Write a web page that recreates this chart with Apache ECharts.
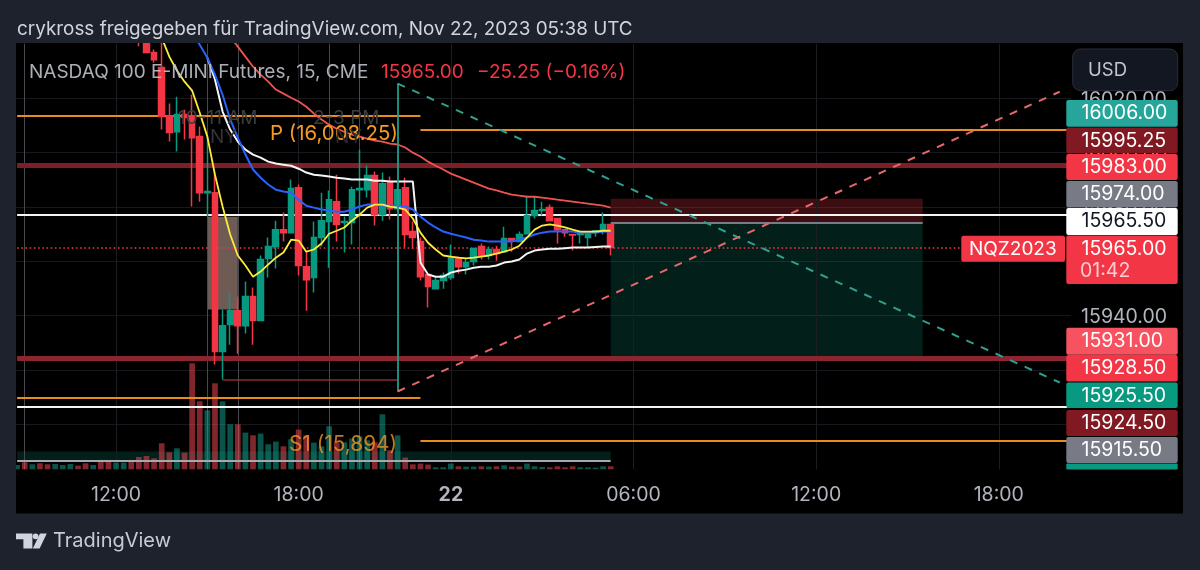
<!DOCTYPE html>
<html>
<head>
<meta charset="utf-8">
<style>html,body{margin:0;padding:0;background:#1e222d}#chart{width:1200px;height:570px}</style>
<script src="https://cdn.jsdelivr.net/npm/echarts@6/dist/echarts.min.js"></script>
</head>
<body>
<div id="chart"></div>
<script>
const categories = [
  '08:45',
  '09:00','09:15','09:30','09:45','10:00','10:15','10:30','10:45','11:00','11:15','11:30','11:45',
  '12:00','12:15','12:30','12:45','13:00','13:15','13:30','13:45','14:00','14:15','14:30','14:45',
  '15:00','15:15','15:30','15:45','16:00','16:15','16:30','16:45','17:00','17:15','17:30','17:45',
  '18:00','18:15','18:30','18:45','19:00','19:15','19:30','19:45','20:00','20:15','20:30','20:45',
  '21:00','21:15','21:30','21:45','22:00','22:15','22:30','22:45',
  '00:00','00:15','00:30','00:45','01:00','01:15','01:30','01:45','02:00','02:15','02:30','02:45',
  '03:00','03:15','03:30','03:45','04:00','04:15','04:30','04:45','05:00','05:15','05:30','05:45',
  '06:00','06:15','06:30','06:45','07:00','07:15','07:30','07:45','08:00','08:15','08:30','08:45',
  '09:00','09:15','09:30','09:45','10:00','10:15','10:30','10:45','11:00','11:15','11:30','11:45',
  '12:00','12:15','12:30','12:45','13:00','13:15','13:30','13:45','14:00','14:15','14:30','14:45',
  '15:00','15:15','15:30','15:45','16:00','16:15','16:30','16:45','17:00','17:15','17:30','17:45',
  '18:00','18:15','18:30','18:45','19:00','19:15','19:30','19:45','20:00','20:15'
];
const labelledBars = [13, 37, 57, 81, 105, 129];
const sessionBars = [1, 25, 29, 41, 45];

// the first 16 bars sit above the visible price range
const hiddenBars = 16;
// open, close, low, high
const ohlc = [
  [16046,16043,16039,16050],[16042.2,16036.7,16036.7,16046],[16036.7,16034.1,16033,16037.8],
  [16031.2,16013.2,16008.4,16041.5],[16013.5,16007.3,16004,16018],[16007.6,16013.9,16000.3,16020.5],
  [16013.9,16012.8,16004.7,16015.7],[16013.5,16005.4,15980.1,16021.2],[16005.8,15985.2,15981.9,16009.5],
  [15985.2,15985.6,15976.4,16005.8],[15985.2,15926.8,15922,15992.6],[15926.8,15936.3,15916.5,15942.2],
  [15936.7,15941.8,15929.3,15948.5],[15941.8,15936.3,15926,15947],[15936.3,15947,15933.4,15952.5],
  [15947,15938.2,15929.3,15950.3],[15938.2,15960.6,15938.2,15962.1],[15961,15965.4,15954,15968.7],
  [15965.4,15971.6,15957.3,15974.9],[15971.6,15970.5,15967.2,15977.9],[15970.5,15986.7,15970.5,15990],
  [15987,15958.4,15954.7,15988.2],[15958,15953.2,15941.8,15963.5],[15954,15968.7,15948.5,15974.6],
  [15968.7,15974.9,15965.4,15985.2],[15974.6,15982.6,15957.6,15986],[15981.9,15973.5,15967.2,15991.8],
  [15974.2,15974.6,15963.2,15976.4],[15974.2,15986.3,15966.1,15987.4],[15986.3,15986.7,15976.4,16001],
  [15986.3,15991.5,15983.4,15995.1],[15991.5,15977.1,15973.1,15993],[15977.1,15988.5,15974.9,15992.6],
  [15988.9,15979.3,15975.3,15991.1],[15979.3,15986.3,15978.2,15988.9],[15987,15969.8,15965,15990.7],
  [15970.9,15968.7,15964.6,15974.6],[15967.2,15954.3,15952.9,15968.7],[15955.1,15950.7,15943,15955.1],
  [15949.9,15952.9,15949.6,15954],[15952.9,15954.7,15949.9,15955.8],[15954,15961.3,15953.2,15966.1],
  [15961.3,15958,15955.4,15961.7],[15958,15959.5,15955.1,15961.3],[15959.9,15964.6,15958.4,15965],
  [15965.4,15962.1,15960.6,15966.5],[15962.1,15964.3,15960.6,15965.4],[15964.3,15962.8,15960.2,15965.7],
  [15963.5,15968.3,15963.2,15972.7],[15968.3,15967.6,15963.5,15968.3],[15967.2,15969.8,15967.2,15970.9],
  [15970.1,15976.8,15969.8,15984.1],[15976.8,15978.6,15975.7,15983.7],[15978.6,15979,15976.8,15981.9],
  [15979.7,15974.9,15974.6,15980.8],[15975.7,15971.6,15966.5,15975.7],[15971.6,15970.5,15969,15971.6],
  [15969.8,15969.6,15963.9,15969.8],[15969.8,15970.1,15966.5,15970.1],[15968.7,15970.5,15965,15970.9],
  [15970.9,15971.2,15969,15971.6],[15970.9,15973.5,15969.8,15977.9],[15973.5,15965,15962.1,15973.5]
];

const yellowStart = 19;
const yellowLine = [16042.2,16035.2,16030.1,16026,16022.7,16014.6,16005.8,15991.8,15980.1,15969.8,15962.1,15958.4,
  15954.3,15956.2,15958.8,15961.3,15963.2,15967.9,15967.6,15963.5,15964.3,15966.5,15970.1,15971.2,15972.4,15974.9,
  15977.1,15979.7,15980.8,15980.8,15980.1,15979.7,15979,15975.7,15970.5,15966.8,15964.3,15962.1,15961.7,15961.3,
  15961,15961.3,15961.7,15962.1,15962.8,15963.5,15964.3,15965.7,15968.7,15971.6,15973.1,15973.5,15973.1,15972.4,
  15971.6,15970.9,15970.9,15970.9,15971.2,15971.2];

const blueStart = 23;
const blueLine = [16044,16039.6,16034.8,16028.6,16021.2,16012.1,16005.4,15999.2,15993.7,15990.7,15988.2,15986.3,
  15985.6,15985.2,15982.6,15980.4,15979.7,15979,15978.6,15978.2,15978.2,15979,15980.1,15980.8,15980.8,15980.4,
  15980.4,15980.4,15980.1,15979,15976.4,15974.2,15972.4,15970.9,15970.1,15969.4,15968.7,15967.9,15967.6,15967.2,
  15967.2,15967.2,15967.2,15967.9,15968.7,15969.8,15970.5,15970.9,15970.9,15970.9,15970.9,15970.5,15970.5,15970.5,
  15970.9,15970.9];

const whiteStart = 25;
const whiteLine = [16034.8,16026.8,16015,16008.4,16004,16001,15999.2,15998.1,15996.6,15995.9,15995.5,15995.1,15994,
  15992.6,15991.8,15991.5,15991.1,15990.7,15990.4,15990,15990,15990,15989.6,15989.6,15989.3,15989.3,15989.3,15989.3,
  15959.5,15955.1,15954.3,15954.3,15955.8,15956.5,15956.9,15957.6,15958,15958,15958.4,15959.5,15959.9,15960.6,
  15962.8,15963.9,15964.3,15964.6,15964.6,15964.8,15965,15965,15965,15965.2,15965.4,15965.4];

const redStart = 28;
const redLine = [16042.6,16038.9,16035.2,16031.5,16028.6,16026,16023.1,16021.6,16020.1,16018.7,16016.8,16014.3,
  16012.1,16010.2,16008.7,16007.6,16006.5,16005.8,16005.1,16004.3,16004,16003.2,16002.9,16001.8,15999.9,15998.5,
  15996.6,15995.1,15993.7,15992.2,15991.1,15990,15988.9,15987.8,15986.7,15986,15985.2,15984.5,15984.1,15983.7,
  15983.7,15983.4,15983,15982.6,15982.3,15981.9,15981.5,15981.2,15980.8,15980.4,15979.7];

const volumeValues = [43,70,50,60,50,53,43,53,37,60,43,83,83,67,67,93,123,133,110,260,170,210,167,1060,680,590,860,680,
  450,450,367,340,357,250,277,230,300,397,340,267,230,430,270,270,307,330,290,270,550,190,340,117,50,57,47,20,20,57,30,
  27,27,30,27,30,40,27,27,57,30,23,20,30,20,30,20,20,17,30,30];
const volumeUp = [1,0,1,0,0,1,1,1,0,0,1,0,0,1,1,0,0,0,0,0,0,1,0,0,0,1,0,1,
  1,0,1,0,1,1,1,0,1,0,0,1,1,1,0,1,1,1,1,0,1,0,1,0,0,0,0,1,1,1,0,
  1,1,0,1,0,1,0,0,1,1,1,0,0,0,0,1,1,1,1,0];

const priceP = 16008.25, priceS1 = 15894, priceLast = 15965;
const levelOrangeTop = 16013.5, levelOrangeLow = 15909.9;
const levelRedTop = 15995.25, levelRedLow = 15924.5;
const levelWhiteTop = 15977.1, levelWhiteLow = 15906.5;
const rangeLow = 15916.5;
const riskTop = 15983, entryPrice = 15974.2, targetPrice = 15924.9;
const boxHigh = 15976.3, boxLow = 15942.2;
const bandHigh = 15890, bandLow = 15886.7;
const channelTop = 16025.3, channelLow = 15912.1, channelTopEnd = 15915.4, channelLowEnd = 16022.3;

const priceTags = ['16006.00','15995.25','15983.00','15974.00','15965.50','15965.00','15931.00','15928.50','15925.50','15924.50','15915.50'];

const GREEN = '#089981', RED = '#f23645', DARKRED = '#801922', ORANGE = '#e88c1e', GRAY = '#787b86';
const FONT = 'Inter, "Noto Sans", sans-serif';
const pad = (n, arr) => new Array(n).fill('-').concat(arr);
const seg = (a, v0, b, v1, style) => [{ coord: [a, v0], lineStyle: style }, { coord: [b, v1] }];
const vline = (i, color) => ({ xAxis: i, lineStyle: { color, width: 1, type: 'solid' } });
const maSeries = (data, color, width) => ({
  type: 'line', data, z: 4, symbol: 'none', silent: true, lineStyle: { color, width }
});

// price axis runs past the plot bottom, so 15880 lies under the time scale
const STEP = 7.61, LEFT = 13.3, TOP = 43.6, PX_PER_PT = 2.72;
const gridWidth = categories.length * STEP;
const plotHeight = 160 * PX_PER_PT;

const tag = (i, y, h, fill, textFill) => [
  { type: 'rect', z: 60, shape: { x: 1066.3, y, width: 111.4, height: h, r: 2 }, style: { fill } },
  { type: 'text', z: 61, style: { text: priceTags[i], x: 1081.5, y: y + 13.6, fill: textFill || '#fff', font: '19.5px ' + FONT, textVerticalAlign: 'middle' } }
];
const label = (text, x, y, fill, size, z, weight) => ({
  type: 'text', z: z || 61,
  style: { text, x, y, fill, font: (weight ? weight + ' ' : '') + (size || 18) + 'px ' + FONT, textVerticalAlign: 'middle' }
});

const frame = '#1e222d';
const graphics = [
  { type: 'rect', z: 50, shape: { x: 0, y: 0, width: 1200, height: 43 }, style: { fill: frame } },
  { type: 'rect', z: 50, shape: { x: 0, y: 0, width: 16, height: 570 }, style: { fill: frame } },
  { type: 'rect', z: 50, shape: { x: 1183, y: 0, width: 17, height: 570 }, style: { fill: frame } },
  { type: 'rect', z: 50, shape: { x: 0, y: 513.5, width: 1200, height: 57 }, style: { fill: frame } },
  label('crykross freigegeben für TradingView.com, Nov 22, 2023 05:38 UTC', 17, 29.5, '#d1d4dc', 18.9),
  label('NASDAQ 100 E-MINI Futures, 15, CME', 29, 72, 'rgba(190,193,202,0.9)', 19),
  label('15965.00', 381, 72, RED, 19),
  label('−25.25 (−0.16%)', 477, 72, RED, 19),
  label('10-11 AM', 178, 118, '#3b3c3f', 19, 0),
  label('NY', 210, 137, '#333437', 19, 0),
  label('2-3 PM', 313, 118, '#3b3c3f', 19, 0),
  label('NY', 335, 137, '#2a2b2e', 19, 0),
  label('P (16,008.25)', 270, 134, '#f59a23', 20.4, 6),
  label('S1 (15,894)', 289, 445, 'rgba(240,150,35,0.8)', 20.8, 6),
  { type: 'rect', z: 60, shape: { x: 1072.7, y: 49, width: 105, height: 41.7, r: 8 }, style: { fill: '#131722', stroke: '#2a2e39', lineWidth: 1 } },
  label('USD', 1088, 70, '#c3c6ce', 18.5),
  ...tag(0, 100, 26.7, '#26a69a'),
  ...tag(1, 127.5, 25.8, DARKRED),
  ...tag(2, 154, 26, RED),
  ...tag(3, 181, 26.5, GRAY),
  ...tag(4, 208, 27, '#ffffff', '#131722'),
  { type: 'rect', z: 60, shape: { x: 1066.3, y: 235.5, width: 111.4, height: 48.5, r: 2 }, style: { fill: RED } },
  label(priceTags[5], 1081.5, 249.5, '#fff', 19.5),
  label('01:42', 1080, 271, 'rgba(255,255,255,0.75)', 19.5),
  { type: 'rect', z: 60, shape: { x: 961.3, y: 235.7, width: 103.7, height: 26, r: 2 }, style: { fill: RED } },
  label('NQZ2023', 969, 249.5, '#fff', 19),
  ...tag(6, 327.7, 27, '#f7525f'),
  ...tag(7, 355, 26.5, RED),
  ...tag(8, 382.5, 25.5, GREEN),
  ...tag(9, 410, 26, DARKRED),
  ...tag(10, 437, 26, GRAY),
  { type: 'rect', z: 60, shape: { x: 1066.3, y: 463.5, width: 111.4, height: 6, r: 1 }, style: { fill: GREEN } },
  { type: 'polygon', z: 61, shape: { points: [[16, 533.4], [32.4, 533.4], [32.4, 548.5], [23.4, 548.5], [23.4, 539.2], [16, 539.2]] }, style: { fill: '#d1d4dc' } },
  { type: 'circle', z: 61, shape: { cx: 35.6, cy: 536.3, r: 2.9 }, style: { fill: '#d1d4dc' } },
  { type: 'polygon', z: 61, shape: { points: [[40, 533.4], [46.8, 533.4], [39.6, 548.5], [32.8, 548.5]] }, style: { fill: '#d1d4dc' } },
  label('TradingView', 53, 541, '#c8cbd3', 20)
];

const option = {
  animation: false,
  backgroundColor: '#000',
  grid: [
    { left: LEFT, top: TOP, width: gridWidth, height: plotHeight },
    { left: LEFT, top: TOP, width: gridWidth, height: 425.7 }
  ],
  xAxis: [
    { type: 'category', gridIndex: 0, data: categories, show: false },
    {
      type: 'category', gridIndex: 1, data: categories,
      axisLine: { show: false }, axisTick: { show: false }, splitLine: { show: false },
      axisLabel: {
        interval: i => labelledBars.includes(i),
        margin: 16, color: '#b2b5be', fontFamily: FONT, fontSize: 19.5,
        formatter: v => v === '00:00' ? '{day|22}' : v,
        rich: { day: { fontWeight: 'bold', fontFamily: FONT, fontSize: 19.5, color: '#b2b5be' } }
      }
    }
  ],
  yAxis: [
    {
      type: 'value', gridIndex: 0, position: 'right', min: 15880, max: 16040, interval: 20,
      axisLine: { show: false }, axisTick: { show: false },
      splitLine: { lineStyle: { color: '#16181d', width: 1 }, showMinLine: false, showMaxLine: false },
      axisLabel: {
        margin: 10, color: '#b2b5be', fontFamily: FONT, fontSize: 19.5, verticalAlign: 'top', lineHeight: 4,
        showMinLabel: false, showMaxLabel: false, formatter: v => v.toFixed(2)
      }
    },
    { type: 'value', gridIndex: 1, min: 0, max: 4257, show: false }
  ],
  graphic: { elements: graphics },
  series: [
    {
      type: 'bar', xAxisIndex: 1, yAxisIndex: 1, z: 1, barWidth: 5.7, silent: true,
      data: volumeValues.map((v, i) => ({
        value: v,
        itemStyle: { color: volumeUp[i] ? 'rgba(18,165,145,0.5)' : 'rgba(248,72,84,0.52)' }
      })),
      markLine: {
        z: 1, silent: true, symbol: 'none', label: { show: false },
        data: labelledBars.map(i => vline(i, '#1b1d22')).concat(sessionBars.map(i => vline(i, '#46484e')))
      }
    },
    {
      type: 'line', data: [], z: 1, silent: true, symbol: 'none',
      markArea: {
        z: 1, silent: true,
        data: [
          [{ coord: [25, boxHigh], itemStyle: { color: '#6e5b54' } }, { coord: [29, boxLow] }],
          [{ coord: [78, riskTop], itemStyle: { color: 'rgba(242,54,69,0.25)' } }, { coord: [119, entryPrice] }],
          [{ coord: [78, entryPrice], itemStyle: { color: 'rgba(8,153,129,0.2)' } }, { coord: [119, targetPrice] }],
          [{ coord: [0, bandHigh], itemStyle: { color: 'rgba(8,153,129,0.2)' } }, { coord: [78, bandLow] }]
        ]
      },
      markLine: {
        z: 2, silent: true, symbol: 'none', label: { show: false },
        data: [
          seg(0, levelOrangeTop, 53, levelOrangeTop, { color: ORANGE, width: 1.8, type: 'solid' }),
          seg(53, priceP, 138, priceP, { color: ORANGE, width: 1.8, type: 'solid' }),
          seg(0, levelRedTop, 138, levelRedTop, { color: '#7e1f28', width: 5, type: 'solid' }),
          seg(0, levelWhiteTop, 138, levelWhiteTop, { color: '#f4f4f4', width: 2, type: 'solid' }),
          seg(0, priceLast, 124, priceLast, { color: RED, width: 1.6, type: [1.6, 2.6] }),
          seg(0, levelRedLow, 138, levelRedLow, { color: '#8b2530', width: 5, type: 'solid' }),
          seg(0, levelOrangeLow, 53, levelOrangeLow, { color: ORANGE, width: 1.8, type: 'solid' }),
          seg(0, levelWhiteLow, 138, levelWhiteLow, { color: '#f4f4f4', width: 2, type: 'solid' }),
          seg(53, priceS1, 138, priceS1, { color: ORANGE, width: 1.8, type: 'solid' }),
          seg(78, entryPrice, 119, entryPrice, { color: GRAY, width: 2, type: 'solid' }),
          seg(0, bandLow, 78, bandLow, { color: '#a5a8ae', width: 2, type: 'solid' }),
          seg(27, rangeLow, 50, rangeLow, { color: '#8a2b33', width: 1.6, type: 'solid' })
        ]
      }
    },
    {
      type: 'candlestick', z: 3, silent: true, barWidth: 6.2,
      data: pad(hiddenBars, ohlc),
      itemStyle: { color: GREEN, color0: RED, borderColor: GREEN, borderColor0: RED, borderWidth: 1.5 }
    },
    maSeries(pad(redStart, redLine), '#ef5350', 1.8),
    maSeries(pad(whiteStart, whiteLine), '#f5f5f5', 2),
    maSeries(pad(blueStart, blueLine), '#2962ff', 2),
    maSeries(pad(yellowStart, yellowLine), '#ffeb3b', 1.8),
    {
      type: 'line', data: [], z: 5, silent: true, symbol: 'none',
      markLine: {
        z: 5, silent: true, symbol: 'none', label: { show: false },
        data: [
          seg(50, channelTop, 50, channelLow, { color: '#1f9e89', width: 1.8, type: 'solid' }),
          seg(50, channelTop, 137, channelTopEnd, { color: '#2fa08f', width: 2, type: [8, 8] }),
          seg(50, channelLow, 137, channelLowEnd, { color: '#e8676a', width: 2, type: [8, 8] })
        ]
      }
    }
  ]
};

const chart = echarts.init(document.getElementById('chart'), null, { renderer: 'canvas' });
chart.setOption(option);
</script>
</body>
</html>
